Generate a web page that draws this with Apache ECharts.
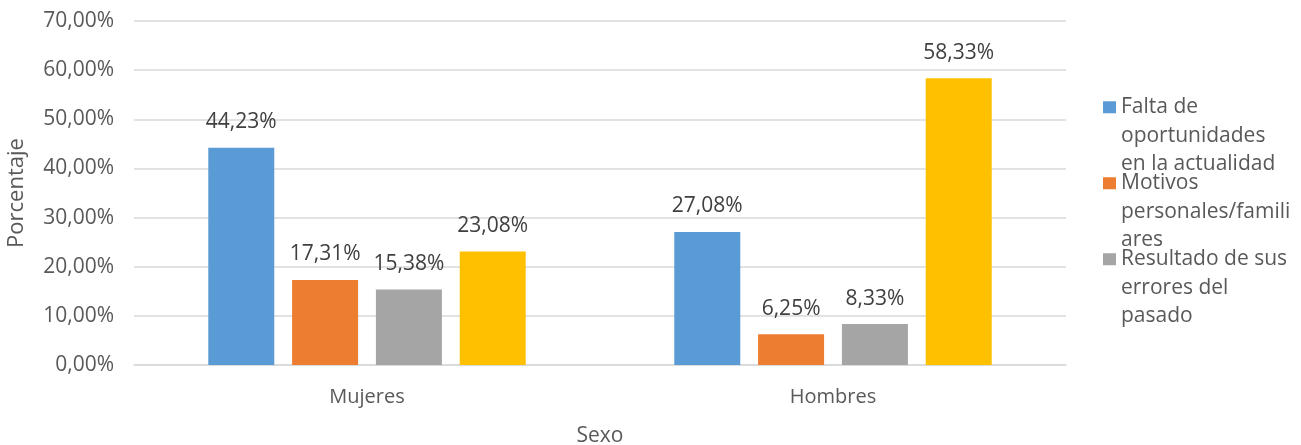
<!DOCTYPE html>
<html>
<head>
<meta charset="utf-8">
<script src="https://cdn.jsdelivr.net/npm/echarts@6/dist/echarts.min.js"></script>
<style>
  html, body { margin: 0; padding: 0; background: #fff; }
  #chart { width: 1301px; height: 445px; }
</style>
</head>
<body>
<div id="chart"></div>
<script>
const categories = ['Mujeres', 'Hombres']
const seriesNames = ['Falta de oportunidades en la actualidad', 'Motivos personales/familiares', 'Resultado de sus errores del pasado', 'Otros']
// how the legend wraps each name in the picture
const legendLabels = ['Falta de\noportunidades\nen la actualidad', 'Motivos\npersonales/famili\nares', 'Resultado de sus\nerrores del\npasado']
const faltaOportunidades = [44.23, 27.08]
const motivosPersonales = [17.31, 6.25]
const erroresPasado = [15.38, 8.33]
const otros = [23.08, 58.33]
const colors = ['#5b9bd5', '#ed7d31', '#a5a5a5', '#ffc000']

const font = '"Open Sans", sans-serif'
const pct = v => v.toFixed(2).replace('.', ',') + '%'

const values = [faltaOportunidades, motivosPersonales, erroresPasado, otros]

let myChart = echarts.init(document.getElementById('chart'))
myChart.setOption({
    animation: false,
    textStyle: { fontFamily: font },
    grid: { left: 134, right: 235, top: 21, bottom: 80, outerBoundsMode: 'none' },
    legend: {
        orient: 'vertical',
        left: 1098,
        top: 31,
        itemWidth: 13,
        itemHeight: 12,
        itemGap: -66.5,
        icon: 'rect',
        data: seriesNames.slice(0, 3),
        // two blank lines in front so the first line sits beside the swatch
        formatter: name => '\n\n' + legendLabels[seriesNames.indexOf(name)],
        textStyle: {
            color: '#595959',
            fontSize: 21,
            fontFamily: font,
            lineHeight: 28.5
        }
    },
    xAxis: {
        type: 'category',
        data: categories,
        name: 'Sexo',
        nameLocation: 'middle',
        nameGap: 61,
        nameTextStyle: { color: '#595959', fontSize: 21, fontFamily: font },
        axisLine: { lineStyle: { color: '#d9d9d9', width: 1.5 } },
        axisTick: { show: false },
        axisLabel: { color: '#595959', fontSize: 20, margin: 22, fontFamily: font }
    },
    yAxis: {
        type: 'value',
        min: 0,
        max: 70,
        interval: 10,
        name: 'Porcentaje',
        nameLocation: 'middle',
        nameGap: 106,
        nameTextStyle: { color: '#595959', fontSize: 22, fontFamily: font },
        axisLine: { show: false },
        axisTick: { show: false },
        axisLabel: { color: '#595959', fontSize: 21, margin: 20, fontFamily: font, formatter: v => pct(v) },
        splitLine: { lineStyle: { color: '#d9d9d9', width: 1.5 } }
    },
    series: seriesNames.map((name, i) => ({
        name: name,
        type: 'bar',
        data: values[i],
        barWidth: 66,
        barGap: '27%',
        itemStyle: { color: colors[i] },
        label: {
            show: true,
            position: 'top',
            distance: 15,
            color: '#404040',
            fontSize: 21,
            fontFamily: font,
            formatter: p => pct(p.value)
        }
    }))
})
</script>
</body>
</html>
